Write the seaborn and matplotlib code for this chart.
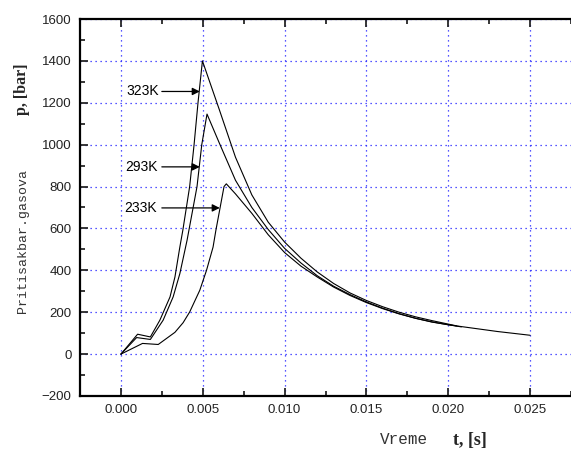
import numpy as np
import pandas as pd
import matplotlib
matplotlib.use("Agg")
import matplotlib.pyplot as plt
import matplotlib.ticker as mticker
import seaborn as sns

# pressure curves: time [s], pressure [bar]
t_323 = [0.0, 0.00102, 0.0018, 0.00238, 0.0030, 0.0033, 0.0036, 0.00378, 0.0042, 0.00447, 0.00471, 0.00498,
         0.0060, 0.0070, 0.0080, 0.0090, 0.0100, 0.0110, 0.0120, 0.0130, 0.0140, 0.0150,
         0.0160, 0.0170, 0.0180, 0.0190, 0.0205]
p_323 = [0, 95, 82, 162, 273, 368, 511, 590, 800, 1000, 1200, 1400,
         1170, 940, 760, 630, 535, 458, 392, 337, 292, 256,
         226, 200, 178, 160, 135]

t_293 = [0.0, 0.00096, 0.0018, 0.00258, 0.00319, 0.0036, 0.00404, 0.00465, 0.00494, 0.00526,
         0.0060, 0.0070, 0.0080, 0.0090, 0.0100, 0.0110, 0.0120, 0.0130, 0.0140, 0.0150,
         0.0160, 0.0170, 0.0180, 0.0190, 0.0208]
p_293 = [0, 79, 70, 162, 273, 384, 543, 800, 1000, 1146,
         1010, 830, 700, 595, 505, 435, 374, 324, 284, 249,
         219, 193, 171, 153, 130]

t_233 = [0.0, 0.00132, 0.00228, 0.00279, 0.0033, 0.0038, 0.0042, 0.00482, 0.00523, 0.00563, 0.0058, 0.0063, 0.00644,
         0.0070, 0.0080, 0.0090, 0.0100, 0.0110, 0.0120, 0.0130, 0.0140, 0.0150, 0.0160,
         0.0170, 0.0180, 0.0190, 0.0200, 0.0215, 0.0230, 0.0250]
p_233 = [0, 51, 46, 75, 104, 150, 201, 305, 400, 511, 590, 800, 813,
         765, 672, 570, 485, 420, 368, 320, 280, 246, 217,
         192, 171, 154, 140, 124, 108, 90]

labels = ["323K", "293K", "233K"]
# arrow tips (time, pressure) and label anchors
arrow_tip_t = [0.00482, 0.00482, 0.00604]
arrow_tip_p = [1254, 894, 698]
label_t = [0.00134, 0.00128, 0.00122]

df = pd.concat([
    pd.DataFrame({"t": t_323, "p": p_323, "T": "323K"}),
    pd.DataFrame({"t": t_293, "p": p_293, "T": "293K"}),
    pd.DataFrame({"t": t_233, "p": p_233, "T": "233K"}),
])

sns.set_style("ticks")
plt.rcParams["font.family"] = ["Liberation Sans", "DejaVu Sans"]

fig = plt.figure(figsize=(5.71, 4.49), dpi=100)
ax = fig.add_axes([80 / 571, 53 / 449, 491 / 571, 377 / 449])

sns.lineplot(data=df, x="t", y="p", hue="T", units="T", estimator=None, sort=False,
             palette=["black"] * 3, linewidth=0.8, legend=False, ax=ax)

for lab, tt, tp, lt in zip(labels, arrow_tip_t, arrow_tip_p, label_t):
    ax.annotate("", xy=(tt, tp), xytext=(0.0025, tp),
                arrowprops=dict(arrowstyle="-|>", color="black", lw=0.9,
                                mutation_scale=11, shrinkA=0, shrinkB=0))
    ax.text(lt, tp, lab, ha="center", va="center", fontsize=10, color="black")

ax.set_xlim(-0.0025, 0.0275)
ax.set_ylim(-200, 1600)
ax.xaxis.set_major_locator(mticker.MultipleLocator(0.005))
ax.xaxis.set_minor_locator(mticker.MultipleLocator(0.0025))
ax.xaxis.set_major_formatter(mticker.FormatStrFormatter("%.3f"))
ax.yaxis.set_major_locator(mticker.MultipleLocator(200))
ax.yaxis.set_minor_locator(mticker.MultipleLocator(100))

ax.grid(True, which="major", color="#2020ff", linestyle=(0, (1, 3)), linewidth=0.9)
ax.tick_params(which="both", direction="in", top=True, right=False, width=1.3,
               labelsize=9.5, labelcolor="#222222")
ax.tick_params(which="major", length=6, pad=6)
ax.tick_params(which="minor", length=3.5)
ax.spines["right"].set_visible(False)
for s in ["left", "bottom", "top"]:
    ax.spines[s].set_linewidth(1.6)
    ax.spines[s].set_color("black")
ax.set_xlabel("")
ax.set_ylabel("")

# axis titles drawn as separate pieces, like the original
fig.text(22 / 571, 1 - 89 / 449, "p, [bar]", rotation=90, ha="center", va="center",
         fontsize=11.5, fontweight="bold", family=["Liberation Serif", "DejaVu Serif"])
fig.text(23 / 571, 1 - 241 / 449, "Pritisakbar.gasova", rotation=90, ha="center", va="center",
         fontsize=9.5, color="#333333", family=["Liberation Mono", "DejaVu Sans Mono"])
fig.text(404 / 571, 1 - 440 / 449, "Vreme", ha="center", va="center",
         fontsize=11.5, color="#333333", family=["Liberation Mono", "DejaVu Sans Mono"])
fig.text(470 / 571, 1 - 440 / 449, "t, [s]", ha="center", va="center",
         fontsize=13, fontweight="bold", family=["Liberation Serif", "DejaVu Serif"])

fig.savefig("out.png", dpi=100)
